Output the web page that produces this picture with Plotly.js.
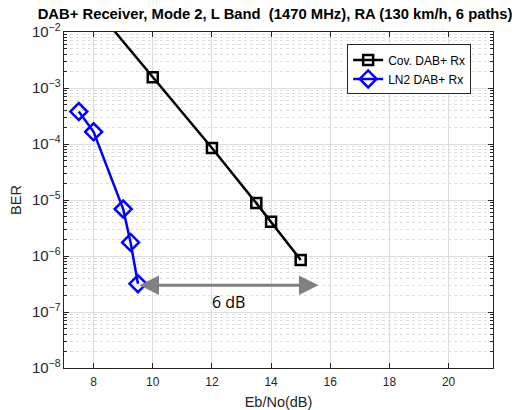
<!DOCTYPE html>
<html>
<head>
<meta charset="utf-8">
<script src="https://cdn.plot.ly/plotly-3.0.1.min.js"></script>
<style>html,body{margin:0;padding:0;background:#fff;}#chart{width:523px;height:410px;}</style>
</head>
<body>
<div id="chart"></div>
<script>
// Data
const covEbNo = [8, 10, 12, 13.5, 14, 15];
const covBER  = [2.9e-2, 1.55e-3, 8.5e-5, 8.8e-6, 4.1e-6, 8.5e-7];
const ln2EbNo = [7.5, 8, 9, 9.25, 9.5];
const ln2BER  = [3.8e-4, 1.65e-4, 6.9e-6, 1.75e-6, 3.2e-7];
const seriesNames = ['Cov. DAB+ Rx', 'LN2 DAB+ Rx'];
const gainStart = 9.5, gainEnd = 15.6, gainBER = 3e-7, gainLabel = '6 dB', gainLabelBER = 1.5e-7;
const xTicks = [8, 10, 12, 14, 16, 18, 20];

const axisCol = '#262626';
const traces = [
  {x: covEbNo, y: covBER, name: seriesNames[0], mode: 'lines+markers', type: 'scatter',
   line: {color: '#000000', width: 2.5},
   marker: {symbol: 'square-open', size: 10, color: '#000000', line: {width: 2.5, color: '#000000'}}},
  {x: ln2EbNo, y: ln2BER, name: seriesNames[1], mode: 'lines+markers', type: 'scatter',
   line: {color: '#0000ff', width: 2.5},
   marker: {symbol: 'diamond-open', size: 13, color: '#0000ff', line: {width: 2.5, color: '#0000ff'}}}
];

const layout = {
  width: 523, height: 410,
  margin: {l: 64, r: 30, t: 32, b: 42},
  paper_bgcolor: '#ffffff', plot_bgcolor: '#ffffff',
  font: {family: 'Liberation Sans, Arial, sans-serif', size: 12, color: axisCol},
  title: {text: 'DAB+ Receiver, Mode 2, L Band\u00a0 (1470 MHz), RA (130 km/h, 6 paths)',
          font: {family: 'Liberation Sans, Arial, sans-serif', size: 14.8, color: '#000000', weight: 'bold'},
          x: 0.526, xanchor: 'center', y: 0.967, yanchor: 'middle'},
  xaxis: {range: [7, 21.5], tickvals: xTicks, ticks: 'inside', ticklen: 5, tickcolor: axisCol,
          showline: true, linecolor: axisCol, linewidth: 1, mirror: 'ticks',
          showgrid: true, gridcolor: '#dcdcdc', gridwidth: 1, zeroline: false,
          ticklabelstandoff: 3,
          title: {text: 'Eb/No(dB)', font: {size: 14.5, color: axisCol}, standoff: 9},
          tickfont: {size: 12, color: axisCol}},
  yaxis: {type: 'log', range: [-8, -2], dtick: 1, exponentformat: 'power', showexponent: 'all',
          ticks: 'inside', ticklen: 5, tickcolor: axisCol,
          showline: true, linecolor: axisCol, linewidth: 1, mirror: 'ticks',
          showgrid: true, gridcolor: '#dcdcdc', gridwidth: 1, zeroline: false,
          minor: {dtick: 'D1', ticks: 'inside', ticklen: 3, tickcolor: axisCol,
                  showgrid: true, gridcolor: '#dedede', griddash: 'dot', gridwidth: 1},
          title: {text: 'BER', font: {size: 14.5, color: axisCol}, standoff: 6},
          tickfont: {size: 12, color: axisCol}},
  legend: {x: 0.66, y: 0.963, xanchor: 'left', yanchor: 'top', bgcolor: '#ffffff',
           bordercolor: axisCol, borderwidth: 1, font: {size: 12, color: '#000000'},
           tracegroupgap: 0, itemwidth: 30},
  showlegend: true,
  annotations: [
    {x: gainEnd, y: Math.log10(gainBER), ax: gainStart, ay: Math.log10(gainBER),
     xref: 'x', yref: 'y', axref: 'x', ayref: 'y', text: '', showarrow: true,
     arrowside: 'end+start', arrowhead: 2, startarrowhead: 2, arrowsize: 1.3, startarrowsize: 1.3,
     arrowwidth: 3, arrowcolor: '#808080', standoff: 0, startstandoff: 0},
    {x: 12.55, y: Math.log10(gainLabelBER), xref: 'x', yref: 'y', text: gainLabel, showarrow: false,
     font: {family: 'Open Sans, sans-serif', size: 16, color: '#000000'}}
  ]
};

Plotly.newPlot('chart', traces, layout, {displayModeBar: false, staticPlot: true});
</script>
</body>
</html>
